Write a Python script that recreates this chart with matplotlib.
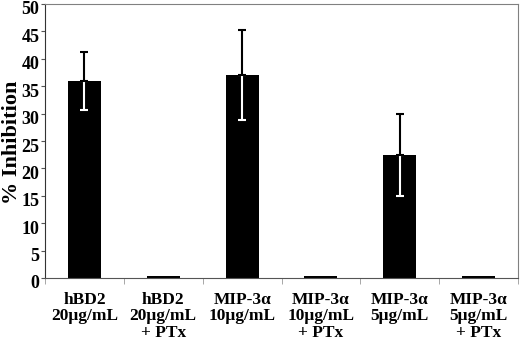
import numpy as np
import matplotlib.pyplot as plt
import matplotlib.transforms as mtransforms

categories = ["hBD2\n20\u03bcg/mL", "hBD2\n20\u03bcg/mL\n+ PTx",
              "MIP-3\u03b1\n10\u03bcg/mL", "MIP-3\u03b1\n10\u03bcg/mL\n+ PTx",
              "MIP-3\u03b1\n5\u03bcg/mL", "MIP-3\u03b1\n5\u03bcg/mL\n+ PTx"]
inhibition = [36.0, 0.4, 37.0, 0.4, 22.4, 0.4]
errors = [5.3, 0, 8.2, 0, 7.5, 0]

plt.rcParams['font.family'] = ['Liberation Serif', 'DejaVu Serif']
plt.rcParams['font.weight'] = 'bold'

fig = plt.figure(figsize=(5.2, 3.45), dpi=100)
ax = fig.add_axes([45/520, 1-278/345, 473/520, 274/345])

x = np.arange(len(categories))
ax.bar(x, inhibition, width=0.42, color='black', zorder=2)
# lower half of the error bar is white inside the bar, upper half black
lo = [[e for e in errors], [0]*len(errors)]
hi = [[0]*len(errors), [e for e in errors]]
idx = [i for i, e in enumerate(errors) if e > 0]
ax.errorbar(x[idx], np.array(inhibition)[idx], yerr=np.array(lo)[:, idx],
            fmt='none', ecolor='white', elinewidth=1.5, capsize=3, capthick=1.5, zorder=3)
ax.errorbar(x[idx], np.array(inhibition)[idx], yerr=np.array(hi)[:, idx],
            fmt='none', ecolor='black', elinewidth=1.5, capsize=3, capthick=1.5, zorder=4)

ax.set_xlim(-0.5, len(categories) - 0.5)
ax.set_ylim(0, 50)
ax.set_yticks(np.arange(0, 51, 5))
ax.set_xticks(x)
ax.set_xticklabels(categories, fontsize=12.5, fontweight='bold', linespacing=1.05)
ax.tick_params(axis='x', length=0, pad=10)
ax.set_xticks(np.arange(-0.5, len(categories)), minor=True)
ax.tick_params(axis='x', which='minor', length=4, color='#999999')
ax.tick_params(axis='y', labelsize=13, length=3, color='#555555', pad=1)
# y tick labels sit a little below their ticks in the original
shift = mtransforms.ScaledTranslation(0, -4/100, fig.dpi_scale_trans)
for lbl in ax.get_yticklabels():
    lbl.set_fontweight('bold')
    lbl.set_transform(lbl.get_transform() + shift)
for s in ['top', 'right']:
    ax.spines[s].set_color('#808080')
ax.spines['left'].set_color('#333333')
ax.spines['bottom'].set_color('#555555')
fig.text(12/520, 1-142/345, '% Inhibition', rotation=90, ha='center', va='center',
         fontsize=16, fontweight='bold')

fig.savefig('out.png', dpi=100)
